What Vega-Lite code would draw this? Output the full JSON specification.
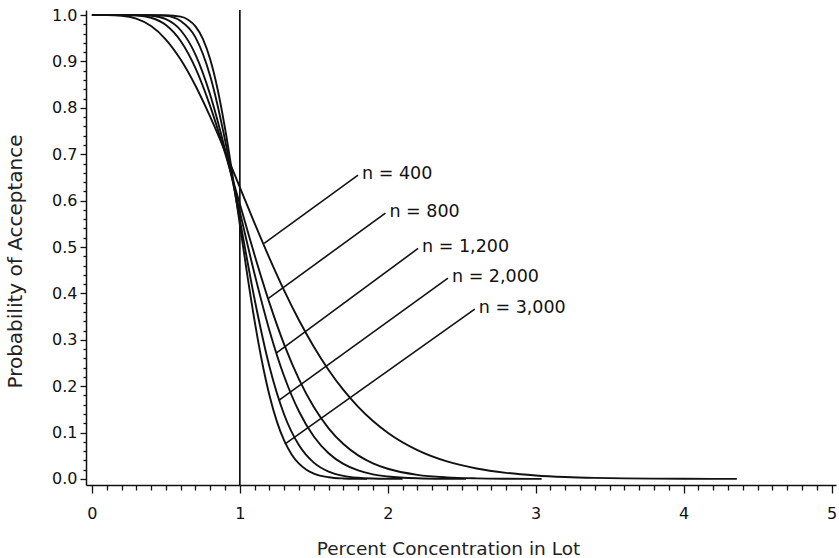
{
  "$schema": "https://vega.github.io/schema/vega-lite/v6.json",
  "width": 750,
  "height": 475,
  "autosize": {"type": "none"},
  "padding": {"left": 86, "top": 10, "right": 3, "bottom": 73},
  "background": "white",
  "config": {
    "view": {"stroke": null},
    "font": "DejaVu Sans",
    "axis": {
      "grid": false,
      "domainColor": "#111",
      "domainWidth": 1.5,
      "tickColor": "#111",
      "tickWidth": 1.3,
      "tickCount": 200,
      "labelColor": "#111",
      "labelFont": "DejaVu Sans",
      "labelFontSize": 16,
      "labelOverlap": false,
      "labelFlush": false,
      "titleFont": "DejaVu Sans",
      "titleFontWeight": "normal",
      "titleColor": "#222"
    }
  },
  "datasets": {
    "curves": [
      {"s": "400", "x": 0, "p": 1},
      {"s": "400", "x": 0.1, "p": 0.99994},
      {"s": "400", "x": 0.2, "p": 0.99859},
      {"s": "400", "x": 0.3, "p": 0.99225},
      {"s": "400", "x": 0.4, "p": 0.97632},
      {"s": "400", "x": 0.5, "p": 0.94735},
      {"s": "400", "x": 0.6, "p": 0.90413},
      {"s": "400", "x": 0.7, "p": 0.84768},
      {"s": "400", "x": 0.8, "p": 0.7806},
      {"s": "400", "x": 0.9, "p": 0.70645},
      {"s": "400", "x": 1.0, "p": 0.62884},
      {"s": "400", "x": 1.1, "p": 0.55117},
      {"s": "400", "x": 1.2, "p": 0.47626},
      {"s": "400", "x": 1.3, "p": 0.40613},
      {"s": "400", "x": 1.4, "p": 0.34215},
      {"s": "400", "x": 1.5, "p": 0.28506},
      {"s": "400", "x": 1.6, "p": 0.23507},
      {"s": "400", "x": 1.7, "p": 0.19203},
      {"s": "400", "x": 1.8, "p": 0.15552},
      {"s": "400", "x": 1.9, "p": 0.12494},
      {"s": "400", "x": 2.0, "p": 0.09963},
      {"s": "400", "x": 2.2, "p": 0.0621},
      {"s": "400", "x": 2.4, "p": 0.0378},
      {"s": "400", "x": 2.6, "p": 0.02253},
      {"s": "400", "x": 2.8, "p": 0.01319},
      {"s": "400", "x": 3.0, "p": 0.0076},
      {"s": "400", "x": 3.2, "p": 0.00432},
      {"s": "400", "x": 3.4, "p": 0.00242},
      {"s": "400", "x": 3.6, "p": 0.00134},
      {"s": "400", "x": 3.8, "p": 0.00074},
      {"s": "400", "x": 4.0, "p": 0.0004},
      {"s": "400", "x": 4.2, "p": 0.00022},
      {"s": "400", "x": 4.36, "p": 0.00013},

      {"s": "800", "x": 0, "p": 1},
      {"s": "800", "x": 0.1, "p": 1},
      {"s": "800", "x": 0.2, "p": 0.99996},
      {"s": "800", "x": 0.3, "p": 0.99914},
      {"s": "800", "x": 0.4, "p": 0.99428},
      {"s": "800", "x": 0.5, "p": 0.97864},
      {"s": "800", "x": 0.6, "p": 0.94418},
      {"s": "800", "x": 0.7, "p": 0.88569},
      {"s": "800", "x": 0.8, "p": 0.80332},
      {"s": "800", "x": 0.9, "p": 0.70267},
      {"s": "800", "x": 1.0, "p": 0.59255},
      {"s": "800", "x": 1.1, "p": 0.48228},
      {"s": "800", "x": 1.2, "p": 0.3796},
      {"s": "800", "x": 1.3, "p": 0.28962},
      {"s": "800", "x": 1.4, "p": 0.21471},
      {"s": "800", "x": 1.5, "p": 0.15503},
      {"s": "800", "x": 1.6, "p": 0.10926},
      {"s": "800", "x": 1.7, "p": 0.07532},
      {"s": "800", "x": 1.8, "p": 0.05088},
      {"s": "800", "x": 1.9, "p": 0.03373},
      {"s": "800", "x": 2.0, "p": 0.022},
      {"s": "800", "x": 2.2, "p": 0.00892},
      {"s": "800", "x": 2.4, "p": 0.00343},
      {"s": "800", "x": 2.6, "p": 0.00126},
      {"s": "800", "x": 2.8, "p": 0.00044},
      {"s": "800", "x": 3.0, "p": 0.00015},
      {"s": "800", "x": 3.04, "p": 0.00012},

      {"s": "1200", "x": 0, "p": 1},
      {"s": "1200", "x": 0.1, "p": 1},
      {"s": "1200", "x": 0.2, "p": 1},
      {"s": "1200", "x": 0.3, "p": 0.9999},
      {"s": "1200", "x": 0.4, "p": 0.99858},
      {"s": "1200", "x": 0.5, "p": 0.99117},
      {"s": "1200", "x": 0.6, "p": 0.96735},
      {"s": "1200", "x": 0.7, "p": 0.915},
      {"s": "1200", "x": 0.8, "p": 0.82787},
      {"s": "1200", "x": 0.9, "p": 0.71037},
      {"s": "1200", "x": 1.0, "p": 0.57597},
      {"s": "1200", "x": 1.1, "p": 0.44131},
      {"s": "1200", "x": 1.2, "p": 0.32026},
      {"s": "1200", "x": 1.3, "p": 0.22091},
      {"s": "1200", "x": 1.4, "p": 0.14539},
      {"s": "1200", "x": 1.5, "p": 0.09167},
      {"s": "1200", "x": 1.6, "p": 0.05557},
      {"s": "1200", "x": 1.7, "p": 0.0325},
      {"s": "1200", "x": 1.8, "p": 0.0184},
      {"s": "1200", "x": 1.9, "p": 0.01},
      {"s": "1200", "x": 2.0, "p": 0.0054},
      {"s": "1200", "x": 2.2, "p": 0.00145},
      {"s": "1200", "x": 2.4, "p": 0.00036},
      {"s": "1200", "x": 2.53, "p": 0.00015},

      {"s": "2000", "x": 0, "p": 1},
      {"s": "2000", "x": 0.1, "p": 1},
      {"s": "2000", "x": 0.2, "p": 1},
      {"s": "2000", "x": 0.3, "p": 1},
      {"s": "2000", "x": 0.4, "p": 0.9999},
      {"s": "2000", "x": 0.5, "p": 0.99841},
      {"s": "2000", "x": 0.6, "p": 0.98719},
      {"s": "2000", "x": 0.7, "p": 0.95209},
      {"s": "2000", "x": 0.8, "p": 0.86817},
      {"s": "2000", "x": 0.9, "p": 0.73072},
      {"s": "2000", "x": 1.0, "p": 0.55909},
      {"s": "2000", "x": 1.1, "p": 0.38682},
      {"s": "2000", "x": 1.2, "p": 0.24244},
      {"s": "2000", "x": 1.3, "p": 0.13848},
      {"s": "2000", "x": 1.4, "p": 0.07265},
      {"s": "2000", "x": 1.5, "p": 0.03528},
      {"s": "2000", "x": 1.6, "p": 0.01597},
      {"s": "2000", "x": 1.7, "p": 0.00679},
      {"s": "2000", "x": 1.8, "p": 0.00273},
      {"s": "2000", "x": 1.9, "p": 0.00104},
      {"s": "2000", "x": 2.0, "p": 0.00038},
      {"s": "2000", "x": 2.1, "p": 0.00013},

      {"s": "3000", "x": 0, "p": 1},
      {"s": "3000", "x": 0.1, "p": 1},
      {"s": "3000", "x": 0.2, "p": 1},
      {"s": "3000", "x": 0.3, "p": 1},
      {"s": "3000", "x": 0.4, "p": 1},
      {"s": "3000", "x": 0.5, "p": 0.99979},
      {"s": "3000", "x": 0.6, "p": 0.99662},
      {"s": "3000", "x": 0.65, "p": 0.99014},
      {"s": "3000", "x": 0.7, "p": 0.97579},
      {"s": "3000", "x": 0.75, "p": 0.94873},
      {"s": "3000", "x": 0.8, "p": 0.90422},
      {"s": "3000", "x": 0.85, "p": 0.83963},
      {"s": "3000", "x": 0.9, "p": 0.7555},
      {"s": "3000", "x": 0.95, "p": 0.65608},
      {"s": "3000", "x": 1.0, "p": 0.54843},
      {"s": "3000", "x": 1.05, "p": 0.44069},
      {"s": "3000", "x": 1.1, "p": 0.34031},
      {"s": "3000", "x": 1.15, "p": 0.25264},
      {"s": "3000", "x": 1.2, "p": 0.18048},
      {"s": "3000", "x": 1.25, "p": 0.12424},
      {"s": "3000", "x": 1.3, "p": 0.08254},
      {"s": "3000", "x": 1.35, "p": 0.05299},
      {"s": "3000", "x": 1.4, "p": 0.03294},
      {"s": "3000", "x": 1.45, "p": 0.01986},
      {"s": "3000", "x": 1.5, "p": 0.01163},
      {"s": "3000", "x": 1.6, "p": 0.00368},
      {"s": "3000", "x": 1.7, "p": 0.00105},
      {"s": "3000", "x": 1.8, "p": 0.00028},
      {"s": "3000", "x": 1.86, "p": 0.00012}
    ],
    "leaders": [
      {"label": "n = 400", "lx": 1.799, "ly": 0.655, "cx": 1.164, "cy": 0.508},
      {"label": "n = 800", "lx": 1.984, "ly": 0.573, "cx": 1.191, "cy": 0.389},
      {"label": "n = 1,200", "lx": 2.205, "ly": 0.497, "cx": 1.248, "cy": 0.272},
      {"label": "n = 2,000", "lx": 2.407, "ly": 0.433, "cx": 1.266, "cy": 0.17},
      {"label": "n = 3,000", "lx": 2.588, "ly": 0.366, "cx": 1.304, "cy": 0.075}
    ]
  },
  "layer": [
    {
      "data": {"name": "curves"},
      "mark": {"type": "line", "interpolate": "monotone", "color": "#111", "strokeWidth": 1.9},
      "encoding": {
        "x": {
          "field": "x",
          "type": "quantitative",
          "scale": {"domain": [-0.04, 5.03], "nice": false, "zero": false},
          "axis": {
            "title": "Percent Concentration in Lot",
            "titleFontSize": 18.5,
            "titleX": 362,
            "titleAnchor": "middle",
            "tickCount": 200,
            "values": [0,0.1,0.2,0.3,0.4,0.5,0.6,0.7,0.8,0.9,1,1.1,1.2,1.3,1.4,1.5,1.6,1.7,1.8,1.9,2,2.1,2.2,2.3,2.4,2.5,2.6,2.7,2.8,2.9,3,3.1,3.2,3.3,3.4,3.5,3.6,3.7,3.8,3.9,4,4.1,4.2,4.3,4.4,4.5,4.6,4.7,4.8,4.9,5],
            "labelExpr": "datum.value % 1 === 0 ? format(datum.value, 'd') : ''",
            "tickSize": {"condition": {"test": "datum.value % 1 === 0", "value": 8}, "value": 5},
            "labelPadding": 12,
            "titlePadding": 18
          }
        },
        "y": {
          "field": "p",
          "type": "quantitative",
          "scale": {"domain": [-0.013, 1.011], "nice": false, "zero": false},
          "axis": {
            "title": "Probability of Acceptance",
            "titleFontSize": 20,
            "titleY": 251,
            "titleAnchor": "middle",
            "tickCount": 200,
            "values": [0,0.02,0.04,0.06,0.08,0.1,0.12,0.14,0.16,0.18,0.2,0.22,0.24,0.26,0.28,0.3,0.32,0.34,0.36,0.38,0.4,0.42,0.44,0.46,0.48,0.5,0.52,0.54,0.56,0.58,0.6,0.62,0.64,0.66,0.68,0.7,0.72,0.74,0.76,0.78,0.8,0.82,0.84,0.86,0.88,0.9,0.92,0.94,0.96,0.98,1],
            "labelExpr": "round(datum.value * 100) % 10 === 0 ? format(datum.value, '.1f') : ''",
            "tickSize": {"condition": {"test": "round(datum.value * 100) % 10 === 0", "value": 6}, "value": 3},
            "labelPadding": 3,
            "titlePadding": 26
          }
        },
        "detail": {"field": "s"}
      }
    },
    {
      "data": {"values": [{"x": 1}]},
      "mark": {"type": "rule", "color": "#111", "strokeWidth": 1.7},
      "encoding": {"x": {"field": "x", "type": "quantitative"}}
    },
    {
      "data": {"name": "leaders"},
      "mark": {"type": "rule", "color": "#111", "strokeWidth": 1.6},
      "encoding": {
        "x": {"field": "lx", "type": "quantitative"},
        "y": {"field": "ly", "type": "quantitative"},
        "x2": {"field": "cx"},
        "y2": {"field": "cy"}
      }
    },
    {
      "data": {"name": "leaders"},
      "mark": {"type": "text", "align": "left", "baseline": "middle", "dx": 4, "dy": -1, "fontSize": 17.5, "color": "#111", "font": "DejaVu Sans"},
      "encoding": {
        "x": {"field": "lx", "type": "quantitative"},
        "y": {"field": "ly", "type": "quantitative"},
        "text": {"field": "label"}
      }
    }
  ]
}
